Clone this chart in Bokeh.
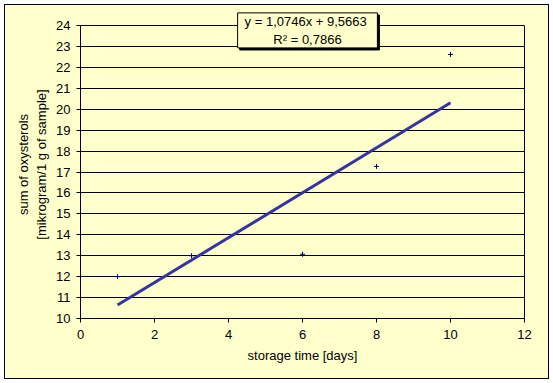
from bokeh.plotting import figure
from bokeh.models import Range1d, FixedTicker, Label, LinearAxis
from bokeh.embed import file_html
from bokeh.resources import INLINE
import numpy as np

days = [1, 3, 6, 8, 10]
oxysterols = [12.0, 13.0, 13.07, 17.27, 22.62]
x_ticks = [0, 2, 4, 6, 8, 10, 12]
y_ticks = list(range(10, 25))
slope = 1.0746
intercept = 9.5663
r2 = 0.7866

FONT = "Liberation Sans"
BG = "#FFFFCC"

p = figure(width=543, height=373, output_backend="svg", toolbar_location=None,
           x_range=Range1d(0, 12), y_range=Range1d(10, 24.72),
           min_border_left=75, min_border_right=24, min_border_top=5, min_border_bottom=60,
           background_fill_color=BG, border_fill_color=BG,
           styles={"margin": "5px 0 0 5px", "outline": "1px solid black"})
p.outline_line_color = None

for ax in (p.xaxis, p.yaxis):
    ax.axis_line_color = "black"
    ax.major_tick_line_color = "black"
    ax.major_tick_out = 4
    ax.major_tick_in = 0
    ax.minor_tick_line_color = None
    ax.major_label_text_font = FONT
    ax.major_label_text_font_size = "13px"
    ax.major_label_text_color = "black"
    ax.axis_label_text_font = FONT
    ax.axis_label_text_font_size = "13px"
    ax.axis_label_text_font_style = "normal"
    ax.axis_label_text_color = "black"

p.xaxis.ticker = FixedTicker(ticks=x_ticks)
p.yaxis.ticker = FixedTicker(ticks=y_ticks)
p.yaxis.bounds = (10, 24)
p.xaxis.major_label_standoff = 7
p.yaxis.major_label_standoff = 6
p.xaxis.axis_label = "storage time [days]"
p.xaxis.axis_label_standoff = 6
p.yaxis.axis_label = "sum of oxysterols\n[mikrogram/1 g of sample]"
p.yaxis.axis_label_standoff = 4

right = LinearAxis(bounds=(10, 24), ticker=FixedTicker(ticks=[]),
                   major_tick_line_color=None, minor_tick_line_color=None,
                   major_label_text_font_size="0px", axis_line_color="black")
p.add_layout(right, "right")

p.xgrid.grid_line_color = None
p.ygrid.grid_line_color = "black"
p.ygrid.grid_line_width = 1

xs = np.array([min(days), max(days)], dtype=float)
p.line(xs, slope * xs + intercept, line_color="#3434A4", line_width=3)
p.scatter(days, oxysterols, marker="cross", size=5, line_color="#000080", line_width=1)

eq = "y = 1,0746x  + 9,5663\nR\u00b2 = 0,7866"
shadow = Label(x=6.19, y=23.67, text=eq, text_align="center", text_baseline="middle",
               text_font=FONT, text_font_size="13px", text_color="black",
               background_fill_color="black", border_line_color="black", padding=(7, 1))
box = Label(x=6.135, y=23.77, text=eq, text_align="center", text_baseline="middle",
            text_font=FONT, text_font_size="13px", text_color="black",
            background_fill_color=BG, border_line_color="black", border_line_width=1,
            padding=(7, 1))
p.add_layout(shadow)
p.add_layout(box)

open("out.html", "w").write(file_html(p, INLINE))
